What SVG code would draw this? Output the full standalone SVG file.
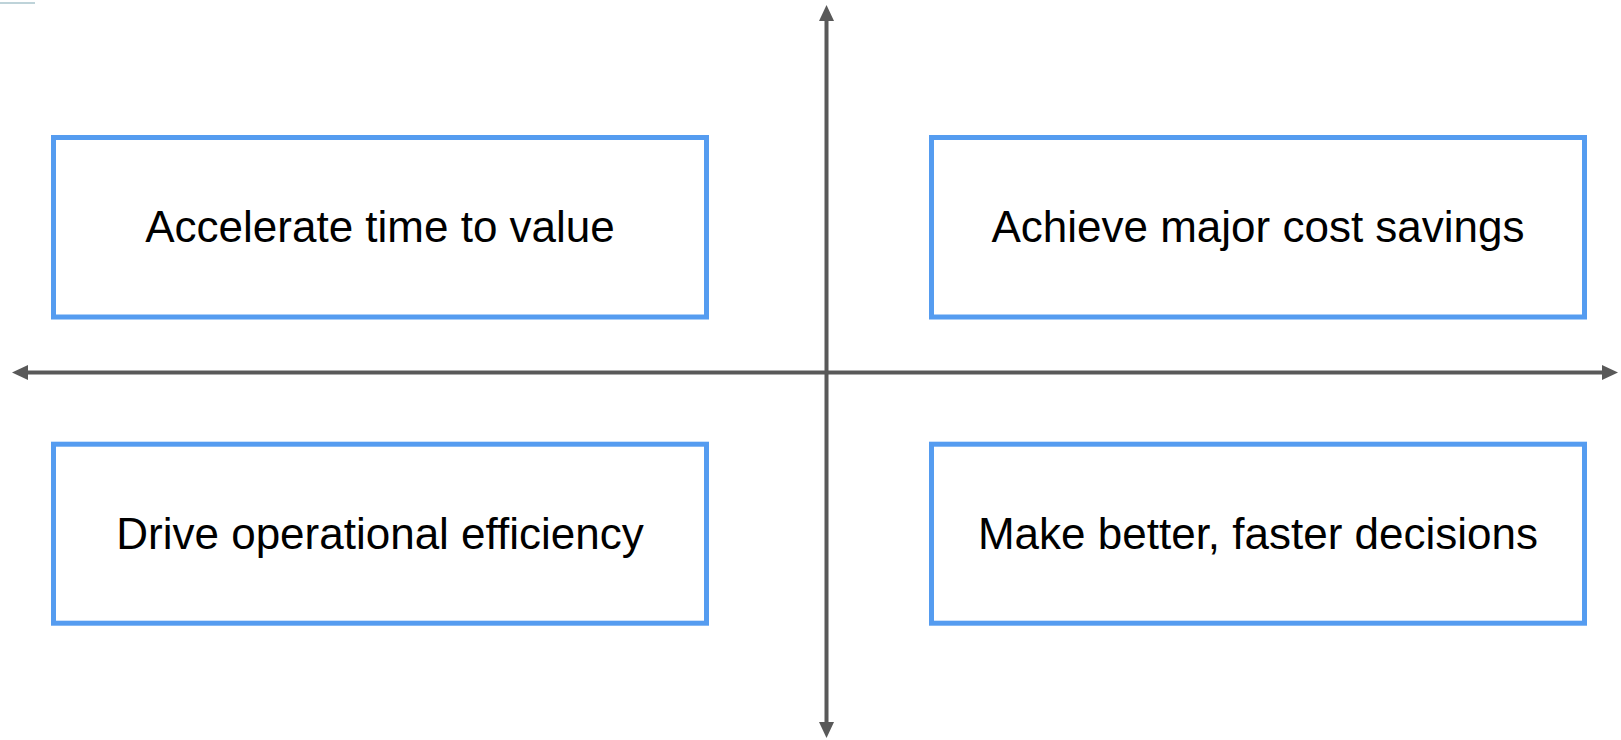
<svg xmlns="http://www.w3.org/2000/svg" width="1621" height="740" viewBox="0 0 1621 740">
  <style>
    .box { fill: #ffffff; stroke: #559CF0; stroke-width: 5; }
    .label { font-family: "Liberation Sans", Arial, sans-serif; font-size: 44px; fill: #000000; text-anchor: middle; }
    .axis { stroke: #595959; stroke-width: 4; fill: none; }
  </style>
  <defs>
    <marker id="arrow" viewBox="0 0 16 15" refX="0" refY="7.5" markerWidth="16" markerHeight="15" markerUnits="userSpaceOnUse" orient="auto-start-reverse">
      <path d="M0,0 L16,7.5 L0,15 Z" fill="#595959"/>
    </marker>
  </defs>
  <rect width="1621" height="740" fill="#ffffff"/>
  <line x1="0" y1="3" x2="35" y2="3" stroke="#a9c4cc" stroke-width="1.5"/>
  <g id="connectors">
    <line class="axis" x1="826.5" y1="722" x2="826.5" y2="21" marker-start="url(#arrow)" marker-end="url(#arrow)"/>
    <line class="axis" x1="28" y1="372.5" x2="1602" y2="372.5" marker-start="url(#arrow)" marker-end="url(#arrow)"/>
  </g>
  <g id="node-accelerate">
    <rect class="box" x="53.5" y="137.5" width="653" height="179.5"/>
    <text class="label" x="380" y="242">Accelerate time to value</text>
  </g>
  <g id="node-cost">
    <rect class="box" x="931.5" y="137.5" width="653" height="179.5"/>
    <text class="label" x="1258" y="242">Achieve major cost savings</text>
  </g>
  <g id="node-efficiency">
    <rect class="box" x="53.5" y="444.2" width="653" height="179"/>
    <text class="label" x="380" y="549">Drive operational efficiency</text>
  </g>
  <g id="node-decisions">
    <rect class="box" x="931.5" y="444.2" width="653" height="179"/>
    <text class="label" x="1258" y="549">Make better, faster decisions</text>
  </g>
</svg>
